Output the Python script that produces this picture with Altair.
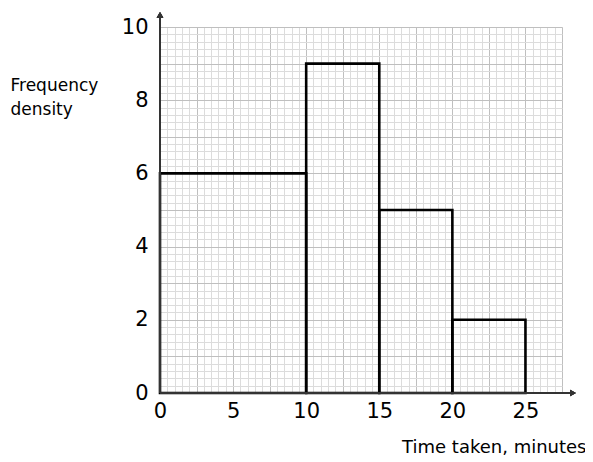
import altair as alt
import pandas as pd

# Histogram data (class boundaries and frequency density)
starts = [0, 10, 15, 20]
ends = [10, 15, 20, 25]
density = [6, 9, 5, 2]

x_labels = [0, 5, 10, 15, 20, 25]
y_labels = [0, 2, 4, 6, 8, 10]
x_major = [0, 2.5, 5, 7.5, 10, 12.5, 15, 17.5, 20, 22.5, 25, 27.5]
y_major = [0, 1, 2, 3, 4, 5, 6, 7, 8, 9, 10]
x_minor = [round(i * 0.5, 2) for i in range(0, 56)]
y_minor = [round(i * 0.2, 2) for i in range(0, 51)]

df = pd.DataFrame({"start": starts, "end": ends, "fd": density})

FONT = "DejaVu Sans"
xs = alt.Scale(domain=[0, 27.5], nice=False, zero=False)
ys = alt.Scale(domain=[0, 10], nice=False, zero=False)


def grid_axis(vals, color, orient):
    return alt.Axis(values=vals, grid=True, gridColor=color, gridWidth=1,
                    labels=False, ticks=False, domain=False, title=None,
                    orient=orient)


minor = alt.Chart(df).mark_point(opacity=0).encode(
    x=alt.X("start:Q", scale=xs, axis=grid_axis(x_minor, "#dcdcdc", "bottom")),
    y=alt.Y("fd:Q", scale=ys, axis=grid_axis(y_minor, "#dcdcdc", "left")),
)

major = alt.Chart(df).mark_point(opacity=0).encode(
    x=alt.X("start:Q", scale=xs, axis=grid_axis(x_major, "#bfbfbf", "bottom")),
    y=alt.Y("fd:Q", scale=ys, axis=grid_axis(y_major, "#bfbfbf", "left")),
)

bars = alt.Chart(df).mark_bar(fillOpacity=0, stroke="black", strokeWidth=2.6).encode(
    x=alt.X("start:Q", scale=xs, axis=alt.Axis(
        values=x_labels, grid=False, ticks=False, domain=False, orient="bottom",
        labelFont=FONT, labelFontSize=21, labelColor="black", labelPadding=7,
        labelFlush=False,
        title="Time taken, minutes", titleFont=FONT, titleFontSize=18,
        titleFontWeight="normal", titleColor="black", titleAlign="right",
        titleAnchor="end", titleX=426, titleY=54, titleBaseline="middle")),
    x2="end:Q",
    y=alt.Y("fd:Q", scale=ys, axis=alt.Axis(
        values=y_labels, grid=False, ticks=False, domain=False, orient="left",
        labelFont=FONT, labelFontSize=21, labelColor="black", labelPadding=12,
        labelFlush=False,
        title=["Frequency", "density"], titleFont=FONT, titleFontSize=17,
        titleFontWeight="normal", titleColor="black", titleAngle=0,
        titleAlign="left", titleX=-150, titleY=58, titleBaseline="middle",
        titleLineHeight=24)),
    y2=alt.datum(0),
)

yline = alt.Chart(df).mark_rule(color="#333333", strokeWidth=2).encode(
    x=alt.X(datum=0, scale=xs, axis=None),
    y=alt.Y(datum=0, scale=ys, axis=None),
    y2=alt.datum(10.3))
xline = alt.Chart(df).mark_rule(color="#333333", strokeWidth=2).encode(
    x=alt.X(datum=0, scale=xs, axis=None),
    x2=alt.datum(28.2),
    y=alt.Y(datum=0, scale=ys, axis=None))
yarrow = alt.Chart(df).mark_point(shape="triangle-up", filled=True, color="#333333",
                                  size=45, opacity=1).encode(
    x=alt.X(datum=0, scale=xs, axis=None),
    y=alt.Y(datum=10.33, scale=ys, axis=None))
xarrow = alt.Chart(df).mark_point(shape="triangle-right", filled=True, color="#333333",
                                  size=45, opacity=1).encode(
    x=alt.X(datum=28.25, scale=xs, axis=None),
    y=alt.Y(datum=0, scale=ys, axis=None))

chart = alt.layer(minor, major, bars, xline, yline, xarrow, yarrow).resolve_axis(
    x="independent", y="independent"
).properties(
    width=402, height=366,
    autosize=alt.AutoSizeParams(type="none"),
    padding={"left": 152, "top": 19, "right": 23, "bottom": 66},
).configure_view(stroke=None)

chart.save("out.html", embed_options={"renderer": "svg", "actions": False})
